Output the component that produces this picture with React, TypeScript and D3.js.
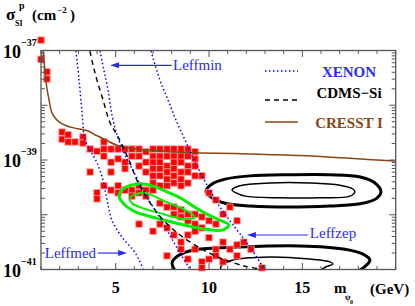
import * as d3 from "d3";

// limit curves: [mass (GeV), log10 sigma (cm^2)]
const cresst: [number, number][] = [
  [1.11, -37.01], [1.21, -37.36], [1.29, -37.63], [1.43, -37.9], [1.59, -38.14],
  [1.91, -38.29], [2.39, -38.38], [2.98, -38.43], [3.52, -38.47], [3.84, -38.53],
  [4.16, -38.58], [5.07, -38.73], [5.93, -38.79], [7.37, -38.84], [9.52, -38.87],
  [12.19, -38.89], [14.87, -38.92], [17.55, -38.97], [19.96, -39.02],
];
const xenonMed: [number, number][] = [
  [2.87, -37.01], [3.04, -37.54], [3.2, -38.14], [3.36, -38.63], [3.63, -38.82],
  [4.0, -39.05], [4.32, -39.37], [4.54, -39.73], [4.8, -40.1], [5.34, -40.41],
  [5.93, -40.64], [6.2, -40.79], [6.46, -40.99],
];
const xenonMin: [number, number][] = [
  [4.16, -37.01], [4.37, -37.36], [4.59, -37.72], [4.8, -38.18], [5.07, -38.54],
  [5.39, -38.82], [5.77, -39.09], [6.2, -39.37], [6.68, -39.68], [7.21, -39.97],
  [7.75, -40.28], [8.34, -40.64], [8.98, -40.99],
];
const xenonZep: [number, number][] = [
  [6.89, -37.01], [7.37, -37.54], [7.8, -37.9], [8.23, -38.27], [8.71, -38.63],
  [9.14, -38.96], [9.52, -39.22], [10.05, -39.55], [10.59, -39.86], [11.12, -40.11],
  [11.71, -40.37], [12.3, -40.64], [12.89, -40.95], [12.99, -40.99],
];
const cdmsSi: [number, number][] = [
  [3.62, -37.01], [3.79, -37.27], [4.0, -37.54], [4.32, -37.9], [4.7, -38.32],
  [5.07, -38.54], [5.39, -38.76], [5.77, -39.05], [6.14, -39.37], [6.57, -39.64],
  [7.0, -39.86], [7.64, -40.13], [8.45, -40.37], [9.52, -40.61], [10.59, -40.79],
  [11.93, -40.94], [12.73, -40.99],
];

// closed contours
const greenOuter: [number, number][] = [
  [5.18, -39.66], [5.39, -39.53], [5.82, -39.46], [6.46, -39.44], [7.11, -39.49],
  [7.75, -39.58], [8.45, -39.69], [9.14, -39.84], [9.89, -39.99], [10.59, -40.1],
  [11.07, -40.19], [10.69, -40.28], [9.78, -40.26], [8.71, -40.19], [7.64, -40.1],
  [6.73, -40.02], [6.09, -39.95], [5.55, -39.84],
];
const greenInner: [number, number][] = [
  [5.77, -39.69], [6.46, -39.6], [7.75, -39.77], [8.71, -39.91], [9.25, -40.04],
  [8.71, -40.08], [7.37, -39.97], [6.3, -39.86], [5.87, -39.79],
];
const blackUpper: [number, number][] = [
  [9.84, -39.57], [10.16, -39.44], [10.86, -39.35], [12.19, -39.29], [14.34, -39.27],
  [16.48, -39.27], [18.09, -39.31], [18.89, -39.42], [19.21, -39.58], [18.94, -39.71],
  [18.09, -39.8], [16.48, -39.84], [14.34, -39.86], [12.19, -39.84], [10.86, -39.79],
  [10.16, -39.69],
];
const blackUpperIn: [number, number][] = [
  [11.23, -39.55], [11.66, -39.47], [13.27, -39.42], [15.41, -39.42], [17.01, -39.46],
  [17.71, -39.53], [17.81, -39.58], [17.55, -39.66], [15.94, -39.69], [13.8, -39.69],
  [11.93, -39.66], [11.45, -39.6],
];
// open (cut by the axis)
const blackLower: [number, number][] = [
  [8.34, -41.1], [8.02, -40.88], [8.34, -40.75], [9.25, -40.64], [11.66, -40.59],
  [14.87, -40.57], [17.28, -40.63], [18.25, -40.72], [18.62, -40.83], [18.3, -40.96],
  [17.55, -41.1],
];
const blackLowerIn: [number, number][] = [
  [10.69, -41.06], [10.64, -40.94], [11.23, -40.83], [13.27, -40.77], [15.41, -40.81],
  [16.48, -40.86], [16.64, -40.9], [16.27, -40.95], [15.84, -41.05],
];

// model points
const redPoints: [number, number][] = [
  [1.0, -36.81], [1.0, -37.16], [1.32, -37.39], [1.32, -37.52],
  [2.13, -38.49], [2.13, -38.62], [2.45, -38.54], [2.45, -38.67], [2.82, -38.67],
  [3.25, -38.58], [3.25, -38.69], [3.63, -38.8], [3.63, -39.22],
  [4.0, -38.84], [4.0, -39.6], [4.0, -39.71],
  [4.37, -38.67], [4.37, -38.8], [4.37, -38.93], [4.37, -39.47],
  [4.75, -38.8], [4.75, -39.04], [4.75, -39.22], [4.75, -39.55],
  [5.13, -38.8], [5.13, -38.98], [5.13, -39.47], [5.13, -39.6],
  [5.5, -38.8], [5.5, -39.04], [5.5, -39.16], [5.5, -39.55],
  [5.87, -38.8], [5.87, -38.93], [5.87, -39.55], [5.87, -39.66],
  [6.25, -38.8], [6.25, -38.93], [6.25, -39.11], [6.25, -39.47], [6.25, -39.6], [6.25, -40.17],
  [6.62, -38.85], [6.62, -39.04], [6.62, -39.22], [6.62, -39.55], [6.62, -39.66],
  [7.0, -38.8], [7.0, -38.93], [7.0, -39.04], [7.0, -39.16], [7.0, -39.29], [7.0, -39.42], [7.0, -39.55], [7.0, -40.3],
  [7.37, -38.8], [7.37, -38.93], [7.37, -39.04], [7.37, -39.16], [7.37, -39.29], [7.37, -39.47], [7.37, -39.79], [7.37, -40.17],
  [7.75, -38.8], [7.75, -38.93], [7.75, -39.11], [7.75, -39.22], [7.75, -39.35], [7.75, -39.47], [7.75, -39.86], [7.75, -40.24], [7.75, -40.75],
  [8.12, -38.8], [8.12, -38.93], [8.12, -39.04], [8.12, -39.16], [8.12, -39.29], [8.12, -39.42], [8.12, -39.86], [8.12, -39.99], [8.12, -40.37],
  [8.5, -38.8], [8.5, -38.93], [8.5, -39.04], [8.5, -39.22], [8.5, -39.35], [8.5, -39.47], [8.5, -39.91], [8.5, -40.04], [8.5, -40.5], [8.5, -40.63],
  [8.87, -38.8], [8.87, -38.93], [8.87, -39.11], [8.87, -39.22], [8.87, -39.42], [8.87, -39.99], [8.87, -40.11], [8.87, -40.37], [8.87, -40.81],
  [9.25, -38.85], [9.25, -38.98], [9.25, -39.11], [9.25, -39.29], [9.25, -39.99], [9.25, -40.17], [9.25, -40.3], [9.25, -40.63],
  [9.62, -39.29], [9.62, -40.04], [9.62, -40.24], [9.62, -40.86], [9.62, -40.97],
  [10.0, -39.6], [10.0, -40.11], [10.0, -40.42], [10.0, -40.81],
  [10.37, -39.73], [10.37, -40.17], [10.37, -40.63], [10.37, -40.75],
  [10.75, -39.99], [10.75, -40.5], [10.75, -40.86],
  [11.12, -39.86], [11.12, -40.63],
  [11.5, -40.11], [11.5, -40.55], [11.5, -40.75],
  [11.87, -40.5], [12.25, -40.63], [12.84, -40.97],
];

const yLabelExps = [-37, -39, -41];
const xMajor = [5, 10, 15];

const W = 415;
const H = 306;
const L = 41, R = 395.7, T = 50.5, B = 269.5;
const BLUE = "#0000ff";
const TXTBLUE = "#2a2aff";
const BROWN = "#8b4513";
const GREEN = "#00ee00";

export default function App() {
  const x = d3.scaleLinear().domain([1, 20]).range([L, R]);
  const y = d3.scaleLog().domain([1e-41, 1e-37]).range([B, T]);
  const px = (d: [number, number]) => x(d[0]);
  const py = (d: [number, number]) => y(Math.pow(10, d[1]));

  const open = d3.line<[number, number]>().x(px).y(py).curve(d3.curveCatmullRom.alpha(0.5));
  const closed = d3.line<[number, number]>().x(px).y(py).curve(d3.curveCatmullRomClosed.alpha(0.5));

  const yMinor: number[] = [];
  for (let e = -41; e < -37; e++) for (let k = 2; k <= 9; k++) yMinor.push(k * Math.pow(10, e));
  const yMajor = d3.range(-41, -36).map(e => Math.pow(10, e));
  const xMinor = d3.range(1, 21).filter(v => !xMajor.includes(v));

  const serif = "'Liberation Serif', 'DejaVu Serif', serif";
  const sq = 6.4;

  const arrow = (x1: number, x2: number, yy: number) => {
    const dir = x2 < x1 ? 1 : -1;
    return (
      <g>
        <line x1={x1} y1={yy} x2={x2 + dir * 7} y2={yy} stroke={TXTBLUE} strokeWidth={1.2} />
        <path d={`M${x2},${yy} L${x2 + dir * 9},${yy - 3} L${x2 + dir * 9},${yy + 3} Z`} fill={TXTBLUE} />
      </g>
    );
  };

  return (
    <svg width={W} height={H} style={{ position: "absolute", left: 0, top: 0, background: "#fff" }}
      fontFamily={serif}>
      <defs>
        <clipPath id="plot">
          <rect x={L} y={T} width={R - L} height={B - T} />
        </clipPath>
      </defs>

      <g clipPath="url(#plot)" fill="none">
        <path d={closed(blackUpper)!} stroke="#000" strokeWidth={3} />
        <path d={closed(blackUpperIn)!} stroke="#000" strokeWidth={1.5} />
        <path d={open(blackLower)!} stroke="#000" strokeWidth={3} />
        <path d={open(blackLowerIn)!} stroke="#000" strokeWidth={1.5} />
      </g>

      {redPoints.map((d, i) => (
        <rect key={i} x={px(d) - sq / 2} y={py(d) - sq / 2} width={sq} height={sq}
          fill="#ff0000" stroke="#ff9a9a" strokeWidth={0.8} />
      ))}

      <g clipPath="url(#plot)" fill="none">
        <path d={closed(greenOuter)!} stroke={GREEN} strokeWidth={3} />
        <path d={closed(greenInner)!} stroke={GREEN} strokeWidth={2} />
        <path d={open(cresst)!} stroke={BROWN} strokeWidth={1.5} />
        <path d={open(cdmsSi)!} stroke="#000" strokeWidth={1.4} strokeDasharray="5 4" />
        <path d={open(xenonMed)!} stroke={BLUE} strokeWidth={1.5} strokeDasharray="1.5 2.5" />
        <path d={open(xenonMin)!} stroke={BLUE} strokeWidth={1.5} strokeDasharray="1.5 2.5" />
        <path d={open(xenonZep)!} stroke={BLUE} strokeWidth={1.5} strokeDasharray="1.5 2.5" />
      </g>

      {/* frame and ticks */}
      <rect x={L} y={T} width={R - L} height={B - T} fill="none" stroke="#555" strokeWidth={1.3} />
      <g stroke="#555" strokeWidth={1}>
        {yMajor.map((v, i) => (
          <g key={"ym" + i}>
            <line x1={L} x2={L + 6.5} y1={y(v)} y2={y(v)} />
            <line x1={R} x2={R - 6.5} y1={y(v)} y2={y(v)} />
          </g>
        ))}
        {yMinor.map((v, i) => (
          <g key={"yn" + i}>
            <line x1={L} x2={L + 4} y1={y(v)} y2={y(v)} />
            <line x1={R} x2={R - 4} y1={y(v)} y2={y(v)} />
          </g>
        ))}
        {xMajor.map((v, i) => (
          <g key={"xm" + i}>
            <line x1={x(v)} x2={x(v)} y1={B} y2={B - 6.5} />
            <line x1={x(v)} x2={x(v)} y1={T} y2={T + 6.5} />
          </g>
        ))}
        {xMinor.map((v, i) => (
          <g key={"xn" + i}>
            <line x1={x(v)} x2={x(v)} y1={B} y2={B - 3.5} />
            <line x1={x(v)} x2={x(v)} y1={T} y2={T + 3.5} />
          </g>
        ))}
      </g>

      {/* tick labels */}
      {yLabelExps.map(e => (
        <g key={e} fontWeight="bold">
          <text x={3} y={y(Math.pow(10, e)) + 7} fontSize={18}>10</text>
          <text x={21} y={y(Math.pow(10, e)) - 5} fontSize={10}>{"\u2212" + Math.abs(e)}</text>
        </g>
      ))}
      {xMajor.map(v => (
        <text key={v} x={x(v)} y={293} fontSize={16} fontWeight="bold" textAnchor="middle">{v}</text>
      ))}

      {/* axis titles */}
      <g fontWeight="bold">
        <text x={6} y={20} fontSize={17}>σ</text>
        <text x={19} y={9} fontSize={10}>p</text>
        <text x={15} y={26} fontSize={8}>SI</text>
        <text x={32} y={20} fontSize={15}>(cm</text>
        <text x={57} y={13} fontSize={9}>{"\u22122"}</text>
        <text x={70} y={20} fontSize={15}>)</text>
        <text x={334} y={293} fontSize={15}>m</text>
        <text x={345} y={300} fontSize={8}>ψ</text>
        <text x={350} y={304} fontSize={6}>0</text>
        <text x={370} y={294} fontSize={15}>(GeV)</text>
      </g>

      {/* legend */}
      <line x1={265} x2={298} y1={71} y2={71} stroke={BLUE} strokeWidth={1.5} strokeDasharray="1.5 2.5" />
      <line x1={265} x2={298} y1={100} y2={100} stroke="#000" strokeWidth={1.4} strokeDasharray="5 4" />
      <line x1={265} x2={298} y1={122} y2={122} stroke={BROWN} strokeWidth={1.5} />
      <g fontWeight="bold" fontSize={15} textAnchor="middle">
        <text x={349} y={77} fill={TXTBLUE}>XENON</text>
        <text x={349} y={98} fill="#000">CDMS−Si</text>
        <text x={349} y={128} fill={BROWN}>CRESST I</text>
      </g>

      {/* annotations */}
      <g fill={TXTBLUE} fontSize={15}>
        <text x={x(8.07)} y={y(Math.pow(10, -37.27)) + 5}>Leffmin</text>
        <text x={x(1.2)} y={y(Math.pow(10, -40.7)) + 5}>Leffmed</text>
        <text x={x(15.4)} y={y(Math.pow(10, -40.33)) + 5}>Leffzep</text>
      </g>
      {arrow(x(8.0), x(4.7), y(Math.pow(10, -37.27)))}
      {arrow(x(4.05), x(5.61), y(Math.pow(10, -40.7)))}
      {arrow(x(15.3), x(12.03), y(Math.pow(10, -40.37)))}
    </svg>
  );
}
